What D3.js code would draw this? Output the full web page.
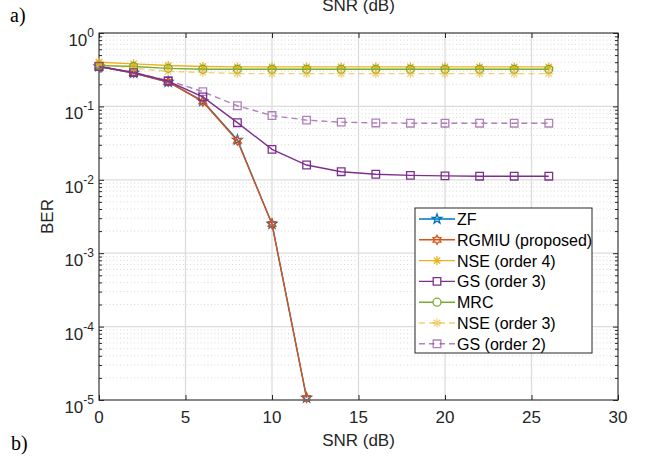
<!DOCTYPE html>
<html>
<head>
<meta charset="utf-8">
<script src="https://cdn.jsdelivr.net/npm/d3@7"></script>
<style>
  body { margin: 0; background: #fff; }
  svg { display: block; font-family: "Liberation Sans", Arial, sans-serif; }
</style>
</head>
<body>
<svg id="chart" width="645" height="456"></svg>
<script>
// data
var snr = [0, 2, 4, 6, 8, 10, 12, 14, 16, 18, 20, 22, 24, 26];
var zf = [0.35, 0.285, 0.215, 0.118, 0.035, 0.0025, 1.07e-5];
var rgmiu = [0.35, 0.285, 0.215, 0.116, 0.034, 0.0025, 1.07e-5];
var nse4 = [0.40, 0.38, 0.36, 0.35, 0.345, 0.345, 0.345, 0.345, 0.345, 0.345, 0.345, 0.345, 0.345, 0.345];
var gs3 = [0.35, 0.29, 0.22, 0.135, 0.060, 0.026, 0.0159, 0.0129, 0.0119, 0.0115, 0.0113, 0.0112, 0.0112, 0.0112];
var mrc = [0.36, 0.35, 0.33, 0.32, 0.32, 0.32, 0.32, 0.32, 0.32, 0.32, 0.32, 0.32, 0.32, 0.32];
var nse3 = [0.38, 0.33, 0.30, 0.29, 0.28, 0.28, 0.28, 0.28, 0.28, 0.28, 0.28, 0.28, 0.28, 0.28];
var gs2 = [0.35, 0.29, 0.225, 0.159, 0.102, 0.075, 0.065, 0.061, 0.0595, 0.059, 0.059, 0.059, 0.059, 0.059];
var xTicks = [0, 5, 10, 15, 20, 25, 30];
var yExps = [0, -1, -2, -3, -4, -5];

var series = [
  {name: "ZF", y: zf, color: "#0072BD", marker: "pentagram", dash: null, op: 1},
  {name: "RGMIU (proposed)", y: rgmiu, color: "#D95319", marker: "hexagram", dash: null, op: 1},
  {name: "NSE (order 4)", y: nse4, color: "#EDB120", marker: "asterisk", dash: null, op: 1},
  {name: "GS (order 3)", y: gs3, color: "#7E2F8E", marker: "square", dash: null, op: 1},
  {name: "MRC", y: mrc, color: "#77AC30", marker: "circle", dash: null, op: 1},
  {name: "NSE (order 3)", y: nse3, color: "#EDB120", marker: "asterisk", dash: "6,4", op: 0.6},
  {name: "GS (order 2)", y: gs2, color: "#7E2F8E", marker: "square", dash: "6,4", op: 0.6}
];

var svg = d3.select("#chart");
var L = 99, R = 618, T = 33, B = 400;
var x = d3.scaleLinear().domain([0, 30]).range([L, R]);
var y = d3.scaleLog().domain([1e-5, 1]).range([B, T]);

// grid
var minor = [];
for (var e = -5; e < 0; e++) for (var m = 2; m <= 9; m++) minor.push(m * Math.pow(10, e));
var grid = svg.append("g");
grid.selectAll(".minor").data(minor).join("line")
  .attr("x1", L).attr("x2", R)
  .attr("y1", d => y(d)).attr("y2", d => y(d))
  .attr("stroke", "#cfcfcf").attr("stroke-width", 0.8).attr("stroke-dasharray", "1,2.5");
grid.selectAll(".hmaj").data(yExps.slice(1, 5)).join("line")
  .attr("x1", L).attr("x2", R)
  .attr("y1", d => y(Math.pow(10, d))).attr("y2", d => y(Math.pow(10, d)))
  .attr("stroke", "#dcdcdc").attr("stroke-width", 1.3);
grid.selectAll(".vmaj").data(xTicks.slice(1, 6)).join("line")
  .attr("y1", T).attr("y2", B)
  .attr("x1", d => x(d)).attr("x2", d => x(d))
  .attr("stroke", "#dcdcdc").attr("stroke-width", 1.3);

// axes (inside ticks on all sides)
var axColor = "#262626";
function styleAxis(g) {
  g.select(".domain").remove();
  g.selectAll(".tick line").attr("stroke", axColor).attr("stroke-width", 1);
  g.selectAll(".tick text").remove();
}
svg.append("g").attr("transform", "translate(0," + B + ")")
  .call(d3.axisBottom(x).tickValues(xTicks).tickSize(-5)).call(styleAxis);
svg.append("g").attr("transform", "translate(0," + T + ")")
  .call(d3.axisTop(x).tickValues(xTicks).tickSize(-5)).call(styleAxis);
svg.append("g").attr("transform", "translate(" + L + ",0)")
  .call(d3.axisLeft(y).tickValues(yExps.map(d => Math.pow(10, d))).tickSize(-5)).call(styleAxis);
svg.append("g").attr("transform", "translate(" + R + ",0)")
  .call(d3.axisRight(y).tickValues(yExps.map(d => Math.pow(10, d))).tickSize(-5)).call(styleAxis);
svg.append("g").attr("transform", "translate(" + L + ",0)")
  .call(d3.axisLeft(y).tickValues(minor).tickSize(-3)).call(styleAxis);
svg.append("g").attr("transform", "translate(" + R + ",0)")
  .call(d3.axisRight(y).tickValues(minor).tickSize(-3)).call(styleAxis);
svg.append("rect").attr("x", L).attr("y", T).attr("width", R - L).attr("height", B - T)
  .attr("fill", "none").attr("stroke", axColor).attr("stroke-width", 1.1);

// tick labels
svg.append("g").selectAll("text").data(xTicks).join("text")
  .attr("x", d => x(d)).attr("y", B + 23).attr("text-anchor", "middle")
  .attr("font-size", 17).attr("fill", axColor).text(d => d);
var yl = svg.append("g").selectAll("text").data(yExps).join("text")
  .attr("x", 94).attr("y", d => y(Math.pow(10, d)) + 13).attr("text-anchor", "end")
  .attr("font-size", 17).attr("fill", axColor);
yl.append("tspan").text("10");
yl.append("tspan").attr("dy", -9).attr("font-size", 12).text(d => d === 0 ? "0" : "-" + (-d));

// axis titles
svg.append("text").attr("x", (L + R) / 2).attr("y", B + 46).attr("text-anchor", "middle")
  .attr("font-size", 17).attr("fill", axColor).text("SNR (dB)");
svg.append("text").attr("x", (L + R) / 2).attr("y", 11).attr("text-anchor", "middle")
  .attr("font-size", 17).attr("fill", axColor).text("SNR (dB)");
svg.append("text").attr("transform", "translate(53," + ((T + B) / 2) + ") rotate(-90)")
  .attr("text-anchor", "middle").attr("font-size", 17).attr("fill", axColor).text("BER");
svg.append("text").attr("x", 10).attr("y", 22).attr("font-family", "Liberation Serif, Times New Roman, serif")
  .attr("font-size", 20).text("a)");
svg.append("text").attr("x", 11).attr("y", 450).attr("font-family", "Liberation Serif, Times New Roman, serif")
  .attr("font-size", 20).text("b)");

// marker paths
function starPath(n, ro, ri) {
  var p = [];
  for (var i = 0; i < 2 * n; i++) {
    var a = -Math.PI / 2 + i * Math.PI / n, r = i % 2 ? ri : ro;
    p.push([r * Math.cos(a), r * Math.sin(a)]);
  }
  return "M" + p.map(q => q[0].toFixed(2) + "," + q[1].toFixed(2)).join("L") + "Z";
}
function markerPath(t) {
  if (t === "pentagram") return starPath(5, 5, 2);
  if (t === "hexagram") return starPath(6, 4.5, 2.6);
  if (t === "square") return "M-3.8,-3.8H3.8V3.8H-3.8Z";
  if (t === "circle") return d3.symbol(d3.symbolCircle, 50)();
  if (t === "asterisk") return "M0,-4.5V4.5M-4.5,0H4.5M-3.2,-3.2L3.2,3.2M-3.2,3.2L3.2,-3.2";
}

// series
var line = d3.line().x(d => x(d[0])).y(d => y(d[1]));
series.forEach(function (s) {
  var pts = s.y.map((v, i) => [snr[i], v]);
  var g = svg.append("g").attr("opacity", s.op);
  g.append("path").attr("d", line(pts)).attr("fill", "none")
    .attr("stroke", s.color).attr("stroke-width", 1.4).attr("stroke-dasharray", s.dash);
  g.selectAll("path.mk").data(pts).join("path").attr("class", "mk")
    .attr("transform", d => "translate(" + x(d[0]) + "," + y(d[1]) + ")")
    .attr("d", markerPath(s.marker)).attr("fill", "none")
    .attr("stroke", s.color).attr("stroke-width", 1.3);
});

// legend
var lg = svg.append("g").attr("transform", "translate(415,208)");
lg.append("rect").attr("width", 177).attr("height", 145)
  .attr("fill", "#fff").attr("stroke", axColor).attr("stroke-width", 1);
var items = lg.selectAll("g").data(series).join("g")
  .attr("transform", (d, i) => "translate(0," + (11 + i * 20.8) + ")");
items.append("line").attr("x1", 4).attr("x2", 40).attr("opacity", d => d.op)
  .attr("stroke", d => d.color).attr("stroke-width", 1.4).attr("stroke-dasharray", d => d.dash);
items.append("path").attr("transform", "translate(22,0)").attr("d", d => markerPath(d.marker))
  .attr("opacity", d => d.op)
  .attr("fill", d => d.marker === "square" || d.marker === "circle" ? "#fff" : "none")
  .attr("stroke", d => d.color).attr("stroke-width", 1.3);
items.append("text").attr("x", 42).attr("y", 6).attr("font-size", 16)
  .attr("fill", "#000").text(d => d.name);
</script>
</body>
</html>
